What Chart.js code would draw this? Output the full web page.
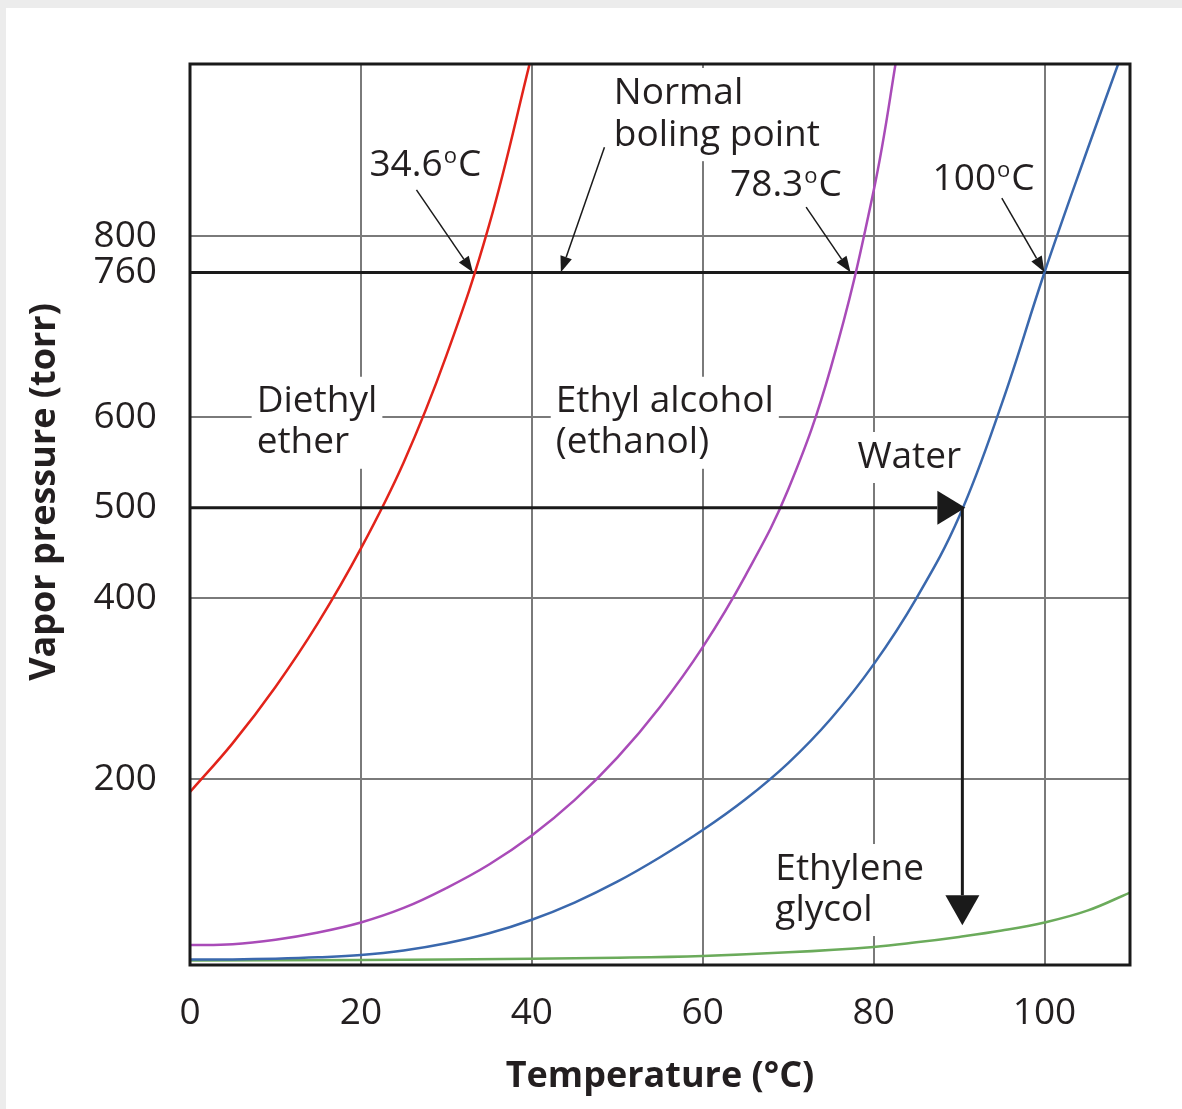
<!DOCTYPE html>
<html>
<head>
<meta charset="utf-8">
<script src="https://cdn.jsdelivr.net/npm/chart.js@4.4.1/dist/chart.umd.min.js"></script>
<style>
  html, body { margin: 0; padding: 0; background: #ececec; }
  #wrap { position: absolute; left: 6px; top: 8px; width: 1176px; height: 1101px; background: #fff; }
  canvas { display: block; }
</style>
</head>
<body>
<div id="wrap"><canvas id="chart" width="1176" height="1101"></canvas></div>
<script>
// axis ticks
const xTicks = [0, 20, 40, 60, 80, 100];
const yTicks = [200, 400, 500, 600, 760, 800];

// vapor pressure (torr)
const etherT = [0, 5, 10, 15, 20, 25, 30, 35, 40];
const etherP = [186, 240, 302, 373, 455, 550, 668, 812, 1000];

const ethanolT = [0, 5, 10, 15, 20, 25, 30, 35, 40, 45, 50, 55, 60, 65, 70, 75, 80, 83];
const ethanolP = [17, 18, 23, 31, 42, 58, 80, 106, 138, 177, 224, 280, 346, 425, 520, 655, 850, 1015];

const waterT = [0, 5, 10, 15, 20, 25, 30, 35, 40, 45, 50, 55, 60, 65, 70, 75, 80, 85, 90, 95, 100, 105, 109];
const waterP = [1, 1.2, 2, 3.5, 6, 11, 19, 30, 45, 64, 87, 114, 144, 178, 218, 267, 327, 400, 490, 615, 760, 895, 1000];

const glycolT = [0, 20, 40, 50, 60, 70, 80, 85, 90, 95, 100, 105, 110];
const glycolP = [0, 0.5, 2, 3, 5, 9, 15, 20, 26, 33, 42, 55, 75];

const INK = '#231f20';
const FONT = "'Open Sans', sans-serif";
Chart.defaults.font.family = FONT;
Chart.defaults.color = INK;

const toPts = (xs, ys) => xs.map((x, i) => ({ x: x, y: ys[i] }));

// text notes, anchored in data units (left edge, middle of first line)
const notes = [
  { lines: ['34.6°C'], x: 21.0, y: 878 },
  { lines: ['Normal', 'boling point'], x: 49.6, y: 958, step: 46.6, knock: true },
  { lines: ['78.3°C'], x: 63.2, y: 856 },
  { lines: ['100°C'], x: 86.9, y: 862 },
  { lines: ['Diethyl', 'ether'], x: 7.8, y: 617, step: 45.3, knock: true },
  { lines: ['Ethyl alcohol', '(ethanol)'], x: 42.8, y: 617, step: 45.3, knock: true },
  { lines: ['Water'], x: 78.1, y: 556, knock: true },
  { lines: ['Ethylene', 'glycol'], x: 68.5, y: 101, step: 45.3, knock: true }
];

// pointer arrows: from [T, p] to [T, p]
const pointers = [
  [[26.5, 851], [33.1, 760]],
  [[48.5, 898], [43.4, 760]],
  [[72.1, 832], [77.3, 760]],
  [[95.0, 842], [100, 760]]
];

function drawLabel(ctx, str, x, y) {
  const i = str.indexOf('°');
  ctx.font = '37px ' + FONT;
  if (i < 0) { ctx.fillText(str, x, y); return; }
  const a = str.slice(0, i), b = str.slice(i + 1);
  ctx.fillText(a, x, y);
  let cx = x + ctx.measureText(a).width + 1;
  ctx.font = '22px ' + FONT;
  ctx.fillText('o', cx, y - 9);
  cx += ctx.measureText('o').width + 1;
  ctx.font = '37px ' + FONT;
  ctx.fillText(b, cx, y);
}

function arrow(ctx, x1, y1, x2, y2, len, half, width) {
  const ang = Math.atan2(y2 - y1, x2 - x1);
  const bx = x2 - len * Math.cos(ang), by = y2 - len * Math.sin(ang);
  ctx.lineWidth = width;
  ctx.beginPath(); ctx.moveTo(x1, y1); ctx.lineTo(bx, by); ctx.stroke();
  ctx.beginPath();
  ctx.moveTo(x2, y2);
  ctx.lineTo(bx + half * Math.sin(ang), by - half * Math.cos(ang));
  ctx.lineTo(bx - half * Math.sin(ang), by + half * Math.cos(ang));
  ctx.closePath(); ctx.fill();
}

const annotations = {
  id: 'annotations',
  beforeDatasetsDraw(chart) {
    const { ctx, scales: { x, y } } = chart;
    ctx.save();
    ctx.textAlign = 'left';
    ctx.textBaseline = 'middle';
    notes.forEach(n => {
      const px = x.getPixelForValue(n.x);
      const py = y.getPixelForValue(n.y);
      const dy = (n.step || 0) * 0.9055;
      if (n.knock) {
        ctx.font = '37px ' + FONT;
        const w = Math.max(...n.lines.map(s => ctx.measureText(s).width));
        ctx.fillStyle = '#fff';
        ctx.fillRect(px - 5, py - 25, w + 10, 51 + dy * (n.lines.length - 1));
      }
      ctx.fillStyle = INK;
      n.lines.forEach((s, k) => drawLabel(ctx, s, px, py + k * dy));
    });
    ctx.restore();
  },
  afterDatasetsDraw(chart) {
    const { ctx, chartArea: a, scales: { x, y } } = chart;
    ctx.save();
    ctx.strokeStyle = '#1a1a1a';
    ctx.fillStyle = '#1a1a1a';
    pointers.forEach(([s, e]) => {
      arrow(ctx, x.getPixelForValue(s[0]), y.getPixelForValue(s[1]),
        x.getPixelForValue(e[0]), y.getPixelForValue(e[1]), 16, 6, 1.5);
    });
    // 500 torr read-across to the water curve, then down
    const xw = x.getPixelForValue(90.5);
    const y500 = y.getPixelForValue(500);
    arrow(ctx, a.left, y500, xw + 2, y500, 28, 17, 3);
    arrow(ctx, xw - 1, y500, xw - 1, y.getPixelForValue(39), 30, 17, 3);
    // frame
    ctx.lineWidth = 3;
    ctx.strokeRect(a.left, a.top, a.right - a.left, a.bottom - a.top);
    // y axis title
    ctx.translate(39, 484);
    ctx.rotate(-Math.PI / 2);
    ctx.font = 'bold 36px ' + FONT;
    ctx.textAlign = 'center';
    ctx.textBaseline = 'middle';
    ctx.fillStyle = INK;
    ctx.fillText('Vapor pressure (torr)', 0, 0);
    ctx.restore();
  }
};

const line = (label, xs, ys, color) => ({
  label: label,
  data: toPts(xs, ys),
  borderColor: color,
  borderWidth: 2.5,
  pointRadius: 0,
  fill: false,
  tension: 0.4
});

new Chart(document.getElementById('chart'), {
  type: 'line',
  data: {
    datasets: [
      line('Diethyl ether', etherT, etherP, '#e2231a'),
      line('Ethyl alcohol', ethanolT, ethanolP, '#a94bb8'),
      line('Water', waterT, waterP, '#3a68ad'),
      line('Ethylene glycol', glycolT, glycolP, '#6bab5b')
    ]
  },
  options: {
    responsive: false,
    animation: false,
    layout: { padding: { left: 14, right: 52, top: 56, bottom: 0 } },
    plugins: { legend: { display: false }, tooltip: { enabled: false } },
    scales: {
      x: {
        type: 'linear',
        min: 0,
        max: 110,
        afterBuildTicks: s => { s.ticks = xTicks.map(v => ({ value: v })); },
        afterFit: s => { s.height = 144; },
        ticks: { font: { size: 37 }, padding: 26, color: INK },
        grid: { color: '#7a7a7a', lineWidth: 2, drawTicks: false },
        border: { display: false },
        title: {
          display: true,
          text: 'Temperature (°C)',
          font: { size: 36, weight: 'bold' },
          color: INK,
          padding: { top: 0, bottom: 11 }
        }
      },
      y: {
        type: 'linear',
        min: -5,
        max: 990,
        afterBuildTicks: s => { s.ticks = yTicks.map(v => ({ value: v })); },
        afterFit: s => { s.width = 170; },
        ticks: { font: { size: 37 }, padding: 33, color: INK },
        grid: {
          drawTicks: false,
          color: c => c.tick.value === 500 ? 'rgba(0,0,0,0)' : (c.tick.value === 760 ? '#1a1a1a' : '#7a7a7a'),
          lineWidth: c => c.tick.value === 760 ? 3 : 2
        },
        border: { display: false }
      }
    }
  },
  plugins: [annotations]
});
</script>
</body>
</html>
